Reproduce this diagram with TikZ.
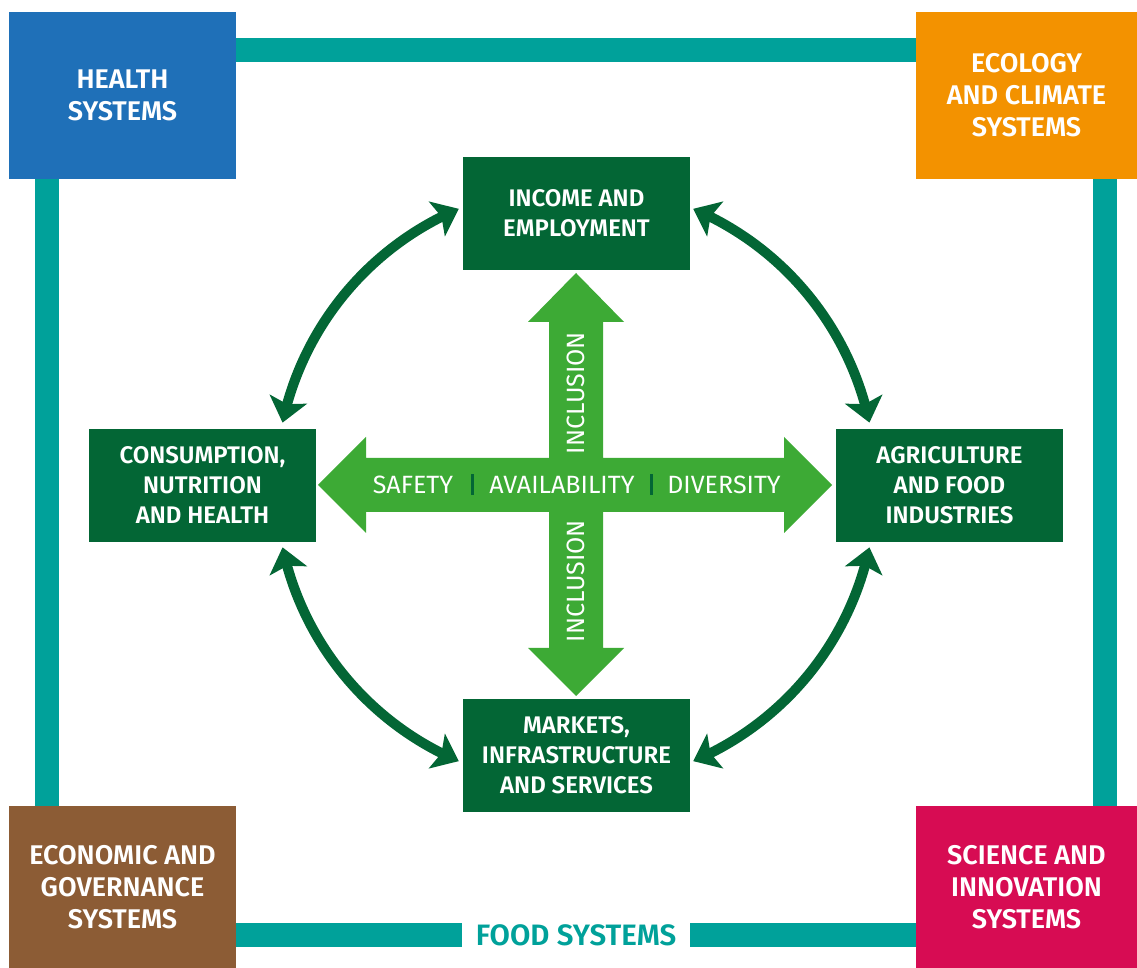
\documentclass[tikz,border=0pt]{standalone}
\usepackage{fontspec}
\setmainfont{Fira Sans}[BoldFont={Fira Sans SemiBold}]
\usetikzlibrary{arrows.meta,bending}
\definecolor{fsteal}{HTML}{00A19A}
\definecolor{fsblue}{HTML}{1F70B8}
\definecolor{fsorange}{HTML}{F39200}
\definecolor{fsbrown}{HTML}{8C5C35}
\definecolor{fsmagenta}{HTML}{D70C53}
\definecolor{dgreen}{HTML}{036635}
\definecolor{lgreen}{HTML}{3DAA35}
\begin{document}
\begin{tikzpicture}[x=1pt,y=1pt,
  outerbox/.style={minimum width=227pt, minimum height=167pt, inner sep=0pt, text=white,
    font=\bfseries\fontsize{27}{32}\selectfont, align=center},
  innerbox/.style={fill=dgreen, minimum width=227pt, minimum height=113pt, inner sep=0pt, text=white,
    font=\bfseries\fontsize{24}{30}\selectfont, align=center},
  crosstext/.style={text=white, inner sep=0pt, font=\fontsize{25}{28}\selectfont},
  cyc/.style={draw=dgreen, line width=10pt,
    {Stealth[length=24pt,width=38pt,inset=5pt]}-{Stealth[length=24pt,width=38pt,inset=5pt]}}]
\useasboundingbox (0,0) rectangle (1137,968);
\fill[white] (0,0) rectangle (1137,968);

% frame
\draw[fsteal, line width=24pt] (46.5,33) rectangle (1105,918);
\node[fill=white, minimum width=228pt, minimum height=34pt, inner sep=0pt, text=fsteal,
  font=\bfseries\fontsize{29.5}{32}\selectfont] (food) at (576,33) {FOOD SYSTEMS};

% outer boxes
\node[outerbox, fill=fsblue] (health) at (122.5,872.5) {HEALTH\\SYSTEMS};
\node[outerbox, fill=fsorange, minimum width=221pt] (eco) at (1026.5,872.5) {ECOLOGY\\AND CLIMATE\\SYSTEMS};
\node[outerbox, fill=fsbrown, minimum height=162pt] (econ) at (122.5,81) {ECONOMIC AND\\GOVERNANCE\\SYSTEMS};
\node[outerbox, fill=fsmagenta, minimum width=221pt, minimum height=162pt] (sci) at (1026.5,81) {SCIENCE AND\\INNOVATION\\SYSTEMS};

% inner boxes
\node[innerbox] (income) at (576.5,754.5) {INCOME AND\\EMPLOYMENT};
\node[innerbox] (cons) at (202.5,482.5) {CONSUMPTION,\\NUTRITION\\AND HEALTH};
\node[innerbox] (agri) at (949.5,482.5) {AGRICULTURE\\AND FOOD\\INDUSTRIES};
\node[innerbox] (mark) at (576.5,212.5) {MARKETS,\\INFRASTRUCTURE\\AND SERVICES};

% cross
\fill[lgreen] (832,483) -- (784,531) -- (784,510) -- (603,510) -- (603,646) -- (624,646)
  -- (576,695) -- (528,646) -- (549,646) -- (549,510) -- (366,510) -- (366,531)
  -- (318,483) -- (366,435) -- (366,456) -- (549,456) -- (549,320) -- (528,320)
  -- (576,272) -- (624,320) -- (603,320) -- (603,456) -- (784,456) -- (784,435) -- cycle;
\node[crosstext] (safety) at (413,483) {SAFETY};
\node[crosstext] (avail) at (562,483) {AVAILABILITY};
\node[crosstext] (div) at (724,483) {DIVERSITY};
\draw[dgreen, line width=3pt] (472,473) -- (472,494);
\draw[dgreen, line width=3pt] (651,473) -- (651,494);
\node[crosstext, rotate=90] (incl1) at (576,575) {INCLUSION};
\node[crosstext, rotate=90] (incl2) at (576,387) {INCLUSION};

% cycle arrows
\coordinate (c) at (576,483);
\draw[cyc] ([shift={(113:300)}]c) arc[start angle=113, end angle=168, radius=300];
\draw[cyc] ([shift={(12:300)}]c) arc[start angle=12, end angle=67, radius=300];
\draw[cyc] ([shift={(192:300)}]c) arc[start angle=192, end angle=247, radius=300];
\draw[cyc] ([shift={(293:300)}]c) arc[start angle=293, end angle=348, radius=300];
\end{tikzpicture}
\end{document}
